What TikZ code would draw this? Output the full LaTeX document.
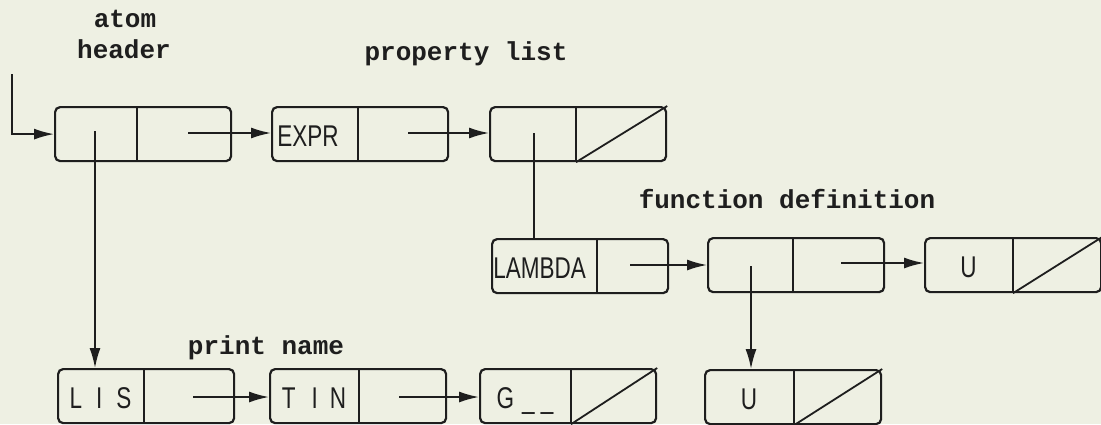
\documentclass[tikz,border=0pt]{standalone}
\usepackage{fontspec}
\usetikzlibrary{calc,arrows.meta}
\newfontfamily\cellfont[FakeStretch=0.75]{Liberation Sans}
\newfontfamily\labelfont{Liberation Mono}
\definecolor{paper}{RGB}{238,240,227}
\definecolor{ink}{RGB}{30,30,30}
\tikzset{
  cellbox/.style={draw=ink, line width=1.1pt, rounded corners=2.5pt,
    minimum width=88pt, minimum height=27pt, inner sep=0pt},
  cellline/.style={draw=ink, line width=1.1pt},
  ptr/.style={draw=ink, line width=0.9pt, -{Latex[length=10pt,width=5.5pt]}},
  link/.style={draw=ink, line width=0.9pt},
  atomtext/.style={font=\cellfont\fontsize{15pt}{17pt}\selectfont, text=ink, inner sep=0pt},
  caption/.style={font=\labelfont\bfseries\fontsize{13pt}{15pt}\selectfont, text=ink, inner sep=0pt, anchor=base},
}
% a cons cell: name, left edge, top edge, width of the car part (all in px)
\newcommand\conscell[4]{%
  \node[cellbox, anchor=north west] (#1) at (#2,#3) {};
  \coordinate (#1-dt) at ($(#1.north west)+(#4,0)$);
  \coordinate (#1-db) at ($(#1.south west)+(#4,0)$);
  \coordinate (#1-car) at ($(#1.north west)+({#4/2},40)$);
  \draw[cellline] (#1-dt) -- (#1-db);
}
\begin{document}
\begin{tikzpicture}[x=0.5pt, y=-0.5pt]
  \fill[paper] (0,0) rectangle (1101,424);
  \useasboundingbox (0,0) rectangle (1101,424);

  % captions
  \node[caption] (lblatom) at (125,27) {atom};
  \node[caption] (lblheader) at (124,58) {header};
  \node[caption] (lblprop) at (466,60) {property list};
  \node[caption] (lblfunc) at (787,208) {function definition};
  \node[caption] (lblprint) at (266,354) {print name};

  % cells
  \conscell{atom}{54}{106}{83}
  \conscell{expr}{271}{106}{87}
  \conscell{plist}{489}{106}{87}
  \conscell{lambda}{491}{238}{106}
  \conscell{fdef}{707}{237}{86}
  \conscell{uright}{924}{237}{89}
  \conscell{lis}{57}{368}{87}
  \conscell{tin}{269}{368}{90}
  \conscell{gcell}{479}{368}{92}
  \conscell{ubot}{704}{369}{90}

  % nil pointers
  \draw[link] (plist-db) -- (plist.north east);
  \draw[link] (uright-db) -- (uright.north east);
  \draw[link] (gcell-db) -- (gcell.north east);
  \draw[link] (ubot-db) -- (ubot.north east);

  % cell contents
  \node[atomtext, anchor=base west] (exprtxt) at ($(expr.north west)+(6,40)$) {EXPR};
  \node[atomtext, anchor=base west] (lambdatxt) at ($(lambda.north west)+(2,40)$) {LAMBDA};
  \node[atomtext, anchor=base] (listxt) at (lis-car) {L\hspace{7pt}I\hspace{7pt}S};
  \node[atomtext, anchor=base] (tintxt) at (tin-car) {T\hspace{8pt}I\hspace{6pt}N};
  \node[atomtext, anchor=base] (gtxt) at (gcell-car) {G\hspace{4pt}\_\hspace{3pt}\_};
  \node[atomtext, anchor=base] (urtxt) at (uright-car) {U};
  \node[atomtext, anchor=base] (ubtxt) at (ubot-car) {U};

  % pointer origins
  \coordinate (entry) at (12,74);
  \coordinate (atom-a) at (95,131);
  \coordinate (atom-d) at (188,133);
  \coordinate (expr-d) at (408,133);
  \coordinate (plist-a) at (534,133);
  \coordinate (lambda-d) at (630,265);
  \coordinate (fdef-a) at (751,266);
  \coordinate (fdef-d) at (841,263);
  \coordinate (lis-d) at (193,397);
  \coordinate (tin-d) at (399,397);

  % pointers
  \draw[ptr] (entry) |- (atom.west);
  \draw[ptr] (atom-d) -- (atom-d -| expr.west);
  \draw[ptr] (atom-a) -- (atom-a |- lis.north);
  \draw[ptr] (expr-d) -- (expr-d -| plist.west);
  \draw[link] (plist-a) -- (plist-a |- lambda.north);
  \draw[ptr] (lambda-d) -- (lambda-d -| fdef.west);
  \draw[ptr] (fdef-d) -- (fdef-d -| uright.west);
  \draw[ptr] (fdef-a) -- (fdef-a |- ubot.north);
  \draw[ptr] (lis-d) -- (lis-d -| tin.west);
  \draw[ptr] (tin-d) -- (tin-d -| gcell.west);
\end{tikzpicture}
\end{document}
